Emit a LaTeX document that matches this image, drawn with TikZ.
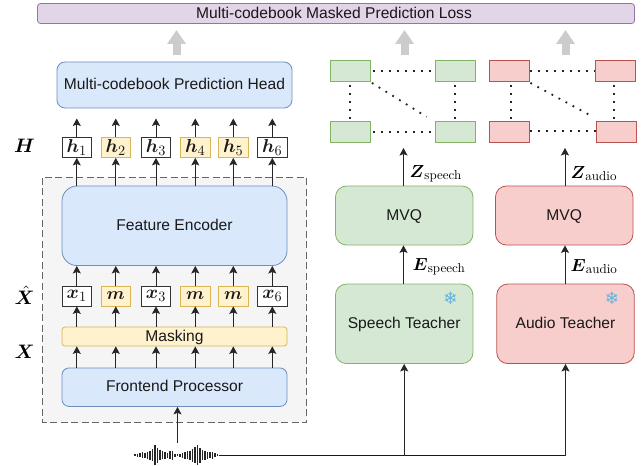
\documentclass[tikz,border=0pt]{standalone}
\usepackage{amsmath,bm}
\usepackage{fontspec}
\setmainfont{Liberation Sans}
\newfontfamily\symfont{DejaVu Sans}
\newfontfamily\lmfont{Latin Modern Roman}
\usetikzlibrary{arrows.meta,calc}
\definecolor{bluef}{HTML}{DAE8FC}\definecolor{bluel}{HTML}{6C8EBF}
\definecolor{greenf}{HTML}{D5E8D4}\definecolor{greenl}{HTML}{82B366}
\definecolor{redf}{HTML}{F8CECC}\definecolor{redl}{HTML}{B85450}
\definecolor{yelf}{HTML}{FFF2CC}\definecolor{yell}{HTML}{D6B656}
\definecolor{purf}{HTML}{E1D5E7}\definecolor{purl}{HTML}{9673A6}
\definecolor{grayf}{HTML}{F5F5F5}\definecolor{grayl}{HTML}{666666}
\definecolor{blockg}{HTML}{CCCCCC}\definecolor{snow}{HTML}{5FB3DE}
\newcommand{\toktxt}[2]{\scalebox{1.3}{$\bm{#1}_{#2}$}}
\newcommand{\masktxt}{\scalebox{1.22}{$\bm{m}$}}
\newcommand{\sublab}[2]{\scalebox{1.75}{$\bm{#1}$}\scalebox{1.3}{\raisebox{-1.6pt}{\lmfont #2}}}
\tikzset{
  box/.style={draw,inner sep=0pt,line width=0.8pt,font=\fontsize{15.6}{18}\selectfont,text=black!90,text height=12.3pt,text depth=3.2pt},
  bluebox/.style={box,fill=bluef,draw=bluel,rounded corners=#1},
  greenbox/.style={box,fill=greenf,draw=greenl,rounded corners=#1},
  redbox/.style={box,fill=redf,draw=redl,rounded corners=#1},
  yelbox/.style={box,fill=yelf,draw=yell,rounded corners=#1},
  tok/.style={box,minimum width=29.5pt,minimum height=20pt,fill=white,draw=black!80,text height=,text depth=},
  mtok/.style={tok,fill=yelf,draw=yell},
  gsq/.style={box,fill=greenf,draw=greenl,minimum width=40pt,minimum height=21pt},
  rsq/.style={box,fill=redf,draw=redl,minimum width=40pt,minimum height=21pt},
  arr/.style={-{Stealth[length=7.5pt,width=8pt,inset=1.5pt]},line width=0.8pt,draw=black!85},
  plainline/.style={line width=0.8pt,draw=black!90},
  blockarr/.style={-{Triangle[length=14pt,width=18pt]},line width=8pt,draw=blockg},
  dots/.style={line width=1.8pt,draw=black!85,dash pattern=on 1.8pt off 6.2pt},
  lab/.style={inner sep=0pt,scale=1.95},
  flake/.style={inner sep=0pt,text=snow,font=\symfont\bfseries\fontsize{17}{17}\selectfont},
}
\begin{document}
\begin{tikzpicture}[x=1pt,y=-1pt]
\useasboundingbox (0,0) rectangle (644,465);
\fill[white] (0,0) rectangle (644,465);
% region
\draw[fill=grayf,draw=grayl,line width=0.75pt,dash pattern=on 7pt off 3.5pt] (42.5,177.5) rectangle (306.5,422);
% main boxes
\node[box,fill=purf,draw=purl,rounded corners=3pt,minimum width=597pt,minimum height=20pt] (loss) at (336,13.5) {\hspace{-4pt}Multi-codebook Masked Prediction Loss};
\node[bluebox=8pt,minimum width=235pt,minimum height=46pt] (head) at (174.5,85) {Multi-codebook Prediction Head};
\node[bluebox=15pt,minimum width=225pt,minimum height=79.5pt] (enc) at (174.5,225.8) {Feature Encoder};
\node[yelbox=3pt,minimum width=225pt,minimum height=19pt] (mask) at (174.5,336.5) {Masking};
\node[bluebox=7pt,minimum width=225pt,minimum height=38.5pt] (front) at (174.5,387.2) {Frontend Processor};
% tokens
\node[tok]  (h1) at (76.8,147.5) {\toktxt{h}{1}};
\node[mtok] (h2) at (115.8,147.5) {\toktxt{h}{2}};
\node[tok]  (h3) at (156,147.5) {\toktxt{h}{3}};
\node[mtok] (h4) at (195.3,147.5) {\toktxt{h}{4}};
\node[mtok] (h5) at (233.3,147.5) {\toktxt{h}{5}};
\node[tok]  (h6) at (272.3,147.5) {\toktxt{h}{6}};
\node[tok]  (x1) at (76.8,296) {\toktxt{x}{1}};
\node[mtok] (x2) at (115.8,296) {\masktxt};
\node[tok]  (x3) at (156,296) {\toktxt{x}{3}};
\node[mtok] (x4) at (195.3,296) {\masktxt};
\node[mtok] (x5) at (233.3,296) {\masktxt};
\node[tok]  (x6) at (272.3,296) {\toktxt{x}{6}};
% side labels
\node[lab] (lH) at (24.5,145.5) {$\bm{H}$};
\node[lab] (lXh) at (24.5,295) {$\hat{\bm{X}}$};
\node[lab] (lX) at (24.5,352) {$\bm{X}$};
% coordinates
\coordinate (headb) at (0,118.5);
\foreach \n in {1,...,6}{
  \draw[arr] (h\n.north) -- (h\n.north |- headb);
  \draw[arr] (h\n.south |- enc.north) -- (h\n.south);
  \draw[arr] (x\n.north) -- (x\n.north |- enc.south);
  \draw[arr] (x\n.south |- mask.north) -- (x\n.south);
  \draw[arr] (x\n.south |- front.north) -- (x\n.south |- mask.south);
}
% teachers
\node[greenbox=11pt,minimum width=137.5pt,minimum height=59pt] (mvqg) at (404.2,215.5) {MVQ};
\node[redbox=11pt,minimum width=137.5pt,minimum height=59pt] (mvqr) at (564.2,215.5) {MVQ};
\node[greenbox=11pt,minimum width=137.5pt,minimum height=79.5pt] (tg) at (404.2,323.8) {Speech Teacher};
\node[redbox=11pt,minimum width=137.5pt,minimum height=79.5pt] (tr) at (565.5,323.8) {Audio Teacher};
\node[flake] (fg) at (450.5,298.5) {❄};
\node[flake] (fr) at (612,298.5) {❄};
% codebooks
\node[gsq] (g1) at (350.5,71) {};
\node[gsq] (g2) at (455,71) {};
\node[gsq] (g3) at (350.5,131.7) {};
\node[gsq] (g4) at (455,131.7) {};
\node[rsq] (r1) at (509,71) {};
\node[rsq] (r2) at (615.3,71) {};
\node[rsq] (r3) at (509,131.7) {};
\node[rsq] (r4) at (616.3,131.7) {};
\draw[dots] (g1.east) ++(2,0) -- (g2.west);
\draw[dots] (g3.east) ++(2,0) -- (g4.west);
\draw[dots] ($(g1.south)+(-0.5,3)$) -- ($(g3.north)+(-0.5,0)$);
\draw[dots] (g2.south) ++(0,3) -- (g2.south |- g4.north);
\draw[dots] (g1.south east) ++(1,1) -- ($(g4.north west)+(-8,-4)$);
\draw[dots] (r1.east) ++(1,0) -- (r2.west);
\draw[dots] ($(r3.east)+(1,-1)$) -- ($(r4.west)+(0,-1)$);
\draw[dots] ($(r1.south)+(2,3)$) -- ($(r3.north)+(2,0)$);
\draw[dots] ($(r2.south)+(-1,3)$) -- ($(r2.south |- r4.north)+(-1,0)$);
\draw[dots] (r1.south east) ++(1,1) -- ($(r4.north west)+(-3,-4)$);
% block arrows
\coordinate (b1s) at (176.5,55.5); \coordinate (b1e) at (176.5,30);
\coordinate (b2s) at (404.5,55.5); \coordinate (b2e) at (404.5,30);
\coordinate (b3s) at (565.5,55.5); \coordinate (b3e) at (565.5,30);
\draw[blockarr] (b1s) -- (b1e);
\draw[blockarr] (b2s) -- (b2e);
\draw[blockarr] (b3s) -- (b3e);
% teacher arrows
\coordinate (zg) at (403.5,148); \coordinate (zr) at (565,148);
\draw[arr] (tg.north -| zg) -- (mvqg.south -| zg);
\draw[arr] (tr.north -| zr) -- (mvqr.south -| zr);
\draw[arr] (mvqg.north -| zg) -- (zg);
\draw[arr] (mvqr.north -| zr) -- (zr);
\node[anchor=west,inner sep=0pt] (lzg) at (409.5,173.5) {\sublab{Z}{speech}};
\node[anchor=west,inner sep=0pt] (lzr) at (570.5,173.5) {\sublab{Z}{audio}};
\node[anchor=west,inner sep=0pt] (leg) at (412.5,267) {\sublab{E}{speech}};
\node[anchor=west,inner sep=0pt] (ler) at (570.5,267) {\sublab{E}{audio}};
% waveform
\foreach \h [count=\i from 0] in {2,3,4,6,5,7,9,12,20,15,10,8,7,5,8,9,3,2,3,5,7,8,9,13,16,20,15,10,9,7,6,7,4,2}{
  \draw[line width=1.3pt,black!85] ({135+\i*2.5},{455-\h/2}) -- ({135+\i*2.5},{455+\h/2});
}
\coordinate (wtop) at (177.5,443);
\coordinate (wout) at (218.5,455.5);
\coordinate (jg) at (tg.south |- wout);
\coordinate (jr) at (tr.south |- wout);
\draw[arr] (wtop) -- (wtop |- front.south);
\draw[plainline] (wout) -- (jr);
\draw[arr] (jg) -- (tg.south);
\draw[arr] (jr) -- (tr.south);
\end{tikzpicture}
\end{document}
